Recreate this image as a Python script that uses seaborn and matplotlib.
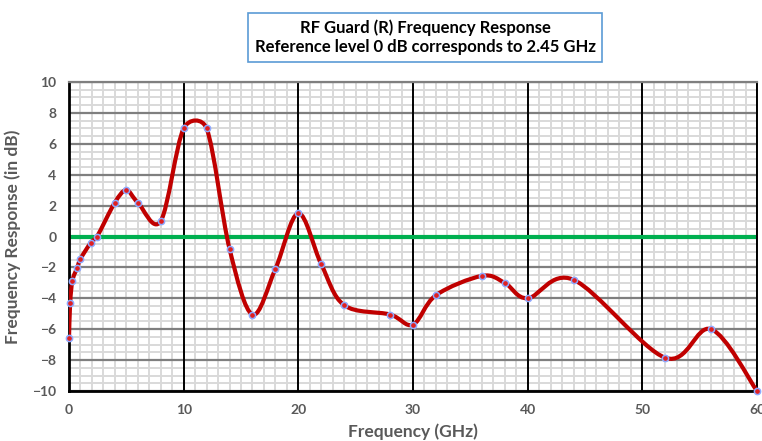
import numpy as np
import pandas as pd
import seaborn as sns
import matplotlib.pyplot as plt
from matplotlib.path import Path
from matplotlib.patches import PathPatch
from matplotlib.ticker import MultipleLocator

freq_ghz = [0, 0.1, 0.3, 0.7, 1, 1.9, 2.45, 4, 5, 6, 8, 10, 12, 14, 16, 18, 20,
            22, 24, 28, 30, 32, 36, 38, 40, 44, 52, 56, 60]
response_db = [-6.6, -4.3, -2.85, -2.05, -1.45, -0.4, 0, 2.2, 3.0, 2.2, 1.0, 7.0, 7.0,
               -0.8, -5.05, -2.1, 1.5, -1.8, -4.45, -5.05, -5.7, -3.8, -2.55, -3.0,
               -4.0, -2.8, -7.85, -6.0, -10.0]

df = pd.DataFrame({"freq": freq_ghz, "resp": response_db})

sns.set_style("white")
plt.rcParams['font.family'] = ['Lato', 'DejaVu Sans']

fig = plt.figure(figsize=(7.62, 4.41), dpi=100)
ax = fig.add_axes([69 / 762, 50 / 441, 688 / 762, 309 / 441])

ax.set_xlim(0, 60)
ax.set_ylim(-10, 10)
ax.xaxis.set_major_locator(MultipleLocator(10))
ax.xaxis.set_minor_locator(MultipleLocator(1))
ax.yaxis.set_major_locator(MultipleLocator(2))
ax.yaxis.set_minor_locator(MultipleLocator(0.5))

# light minor grid, darker major lines on top of it
ax.grid(which="minor", axis="both", color="#d9d9d9", lw=1.4, zorder=0)
ax.set_axisbelow(True)
for yv in ax.get_yticks():
    ax.axhline(yv, color="#7f7f7f", lw=1.6, zorder=1)
for xv in ax.get_xticks():
    ax.axvline(xv, color="black", lw=1.4, zorder=1.2)

# reference line at 0 dB
ax.axhline(0, color="#00b050", lw=3, zorder=2)

# smoothed line like the spreadsheet "smooth line": bezier segments,
# control arms 1/6 of neighbour chord, capped at half the segment (screen space)
pts = df[["freq", "resp"]].to_numpy(dtype=float)
scr = ax.transData.transform(pts)
n = len(pts)
verts = [pts[0]]
codes = [Path.MOVETO]
for i in range(n - 1):
    i0 = max(i - 1, 0)
    i3 = min(i + 2, n - 1)
    d12 = np.hypot(*(scr[i + 1] - scr[i]))
    d02 = np.hypot(*(scr[i + 1] - scr[i0]))
    d13 = np.hypot(*(scr[i3] - scr[i]))
    f1 = 1 / 6
    f2 = 1 / 6
    if d02 / 6 > d12 / 2:
        f1 = d12 / d02 / 2
    if d13 / 6 > d12 / 2:
        f2 = d12 / d13 / 2
    c1 = pts[i] + (pts[i + 1] - pts[i0]) * f1
    c2 = pts[i + 1] - (pts[i3] - pts[i]) * f2
    verts += [c1, c2, pts[i + 1]]
    codes += [Path.CURVE4] * 3
curve = PathPatch(Path(verts, codes), fill=False, ec="#c00000", lw=3, zorder=3,
                  capstyle="round", joinstyle="round")
ax.add_patch(curve)

sns.scatterplot(data=df, x="freq", y="resp", ax=ax, s=20, color="#e02020",
                edgecolor="#8ea9ff", linewidth=1.1, zorder=4, clip_on=False)

for side in ["left", "bottom"]:
    ax.spines[side].set_color("black")
    ax.spines[side].set_linewidth(2)
ax.spines["top"].set_color("#7f7f7f")
ax.spines["top"].set_linewidth(1.6)
ax.spines["right"].set_color("black")
ax.spines["right"].set_linewidth(1.4)

ax.tick_params(which="major", direction="out", length=4, width=1.5, color="black",
               labelcolor="#595959", labelsize=10, pad=5)
ax.tick_params(which="minor", length=0)
for lab in ax.get_xticklabels() + ax.get_yticklabels():
    lab.set_fontweight("bold")

ax.set_xlabel("Frequency (GHz)", fontsize=12.5, fontweight="bold", color="#595959", labelpad=6)
ax.set_ylabel("Frequency Response (in dB)", fontsize=12.5, fontweight="bold", color="#595959", labelpad=8)

fig.text(0.558, 0.915, "RF Guard (R) Frequency Response\nReference level 0 dB corresponds to 2.45 GHz",
         ha="center", va="center", fontsize=12, fontweight="bold", color="black", linespacing=1.25,
         bbox=dict(boxstyle="square,pad=0.4", fc="white", ec="#5b9bd5", lw=1.2))

fig.savefig("out.png", dpi=100)
